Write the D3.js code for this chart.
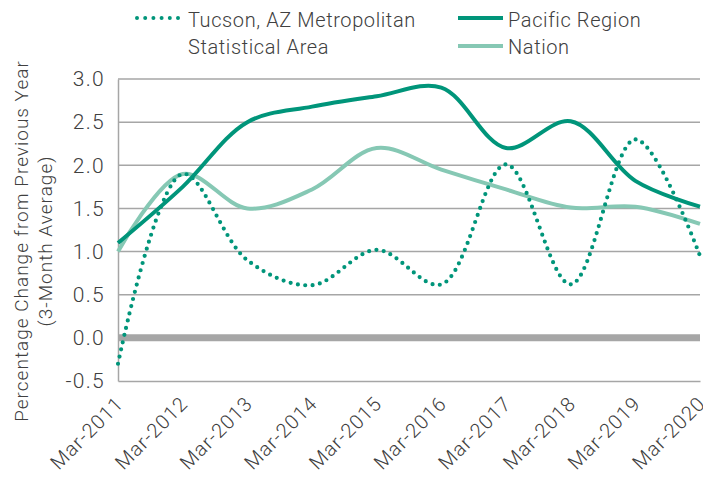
<!DOCTYPE html>
<html><head><meta charset="utf-8">
<script src="https://cdn.jsdelivr.net/npm/d3@7"></script>
<style>
body{margin:0;background:#fff;}
text{font-family:"Roboto","Liberation Sans",sans-serif;font-weight:300;fill:#404040;}
</style></head>
<body><svg id="c" width="703" height="480"></svg>
<script>
const categories = ["Mar-2011","Mar-2012","Mar-2013","Mar-2014","Mar-2015","Mar-2016","Mar-2017","Mar-2018","Mar-2019","Mar-2020"];
const tucson  = [-0.3, 1.9, 0.9, 0.61, 1.02, 0.62, 2.01, 0.62, 2.3, 0.95];
const pacific = [1.1, 1.75, 2.5, 2.68, 2.8, 2.9, 2.2, 2.51, 1.82, 1.52];
const nation  = [1.0, 1.9, 1.5, 1.72, 2.2, 1.95, 1.72, 1.51, 1.52, 1.32];
const yTicks = [-0.5, 0.0, 0.5, 1.0, 1.5, 2.0, 2.5, 3.0];
const seriesNames = ["Tucson, AZ Metropolitan|Statistical Area", "Pacific Region", "Nation"];

const dark = "#00957a", light = "#86c8b4", grid = "#a6a6a6";
const svg = d3.select("#c");
const L = 118, R = 700, T = 79, B = 381;
const x = d3.scalePoint().domain(categories).range([L, R]);
const y = d3.scaleLinear().domain([-0.5, 3.0]).range([B, T]);

// gridlines
svg.append("g").selectAll("line").data(yTicks.filter(v => v > -0.5 && v !== 0)).join("line")
  .attr("x1", L).attr("x2", R).attr("y1", d => y(d)).attr("y2", d => y(d))
  .attr("stroke", grid).attr("stroke-width", 1.5);
// zero line
svg.append("line").attr("x1", L).attr("x2", R).attr("y1", y(0)).attr("y2", y(0))
  .attr("stroke", grid).attr("stroke-width", 7);

// axes
const yAxis = svg.append("g").attr("transform", `translate(${L},0)`)
  .call(d3.axisLeft(y).tickValues(yTicks).tickSize(0).tickPadding(13).tickFormat(d => d.toFixed(1)));
yAxis.select(".domain").attr("stroke", grid).attr("stroke-width", 1.5);
yAxis.selectAll("text").attr("font-size", 21).attr("fill", "#404040")
  .style("font-family", "Roboto, 'Liberation Sans', sans-serif").style("letter-spacing", "1.3px");

const xAxis = svg.append("g").attr("transform", `translate(0,${B})`)
  .call(d3.axisBottom(x).tickSize(0).tickPadding(0));
xAxis.select(".domain").attr("stroke", grid).attr("stroke-width", 1.5);
xAxis.selectAll("text").attr("font-size", 20).attr("fill", "#404040")
  .style("font-family", "Roboto, 'Liberation Sans', sans-serif").style("letter-spacing", "1px")
  .attr("text-anchor", "end").attr("dy", null).attr("y", 0)
  .attr("transform", "translate(6,24) rotate(-45)");

// axis title
const title = svg.append("text").attr("transform", "translate(0,241) rotate(-90)")
  .attr("text-anchor", "middle").attr("font-size", 19).style("letter-spacing", "1px");
title.append("tspan").attr("x", 0).attr("y", 28).text("Percentage Change from Previous Year");
title.append("tspan").attr("x", 0).attr("y", 52).text("(3-Month Average)");

// lines
const line = d3.line().x((d, i) => x(categories[i])).y(d => y(d)).curve(d3.curveCatmullRom.alpha(0.5));
svg.append("path").attr("d", line(nation)).attr("fill", "none").attr("stroke", light).attr("stroke-width", 4);
svg.append("path").attr("d", line(pacific)).attr("fill", "none").attr("stroke", dark).attr("stroke-width", 4);
svg.append("path").attr("d", line(tucson)).attr("fill", "none").attr("stroke", dark).attr("stroke-width", 4.2)
  .attr("stroke-linecap", "round").attr("stroke-dasharray", "0 7.4");

// legend
const lg = svg.append("g").style("letter-spacing", "0.6px");
lg.append("line").attr("x1", 137).attr("x2", 180).attr("y1", 18).attr("y2", 18)
  .attr("stroke", dark).attr("stroke-width", 4).attr("stroke-linecap", "round").attr("stroke-dasharray", "0 8.2");
const t1 = lg.append("text").attr("font-size", 20);
const parts = seriesNames[0].split("|");
t1.append("tspan").attr("x", 188).attr("y", 27).text(parts[0]);
t1.append("tspan").attr("x", 188).attr("y", 54).text(parts[1]);
lg.append("line").attr("x1", 458).attr("x2", 503).attr("y1", 18).attr("y2", 18).attr("stroke", dark).attr("stroke-width", 4);
lg.append("text").attr("x", 508).attr("y", 27).attr("font-size", 20).text(seriesNames[1]);
lg.append("line").attr("x1", 458).attr("x2", 503).attr("y1", 46).attr("y2", 46).attr("stroke", light).attr("stroke-width", 4);
lg.append("text").attr("x", 508).attr("y", 54).attr("font-size", 20).text(seriesNames[2]);
</script></body></html>
